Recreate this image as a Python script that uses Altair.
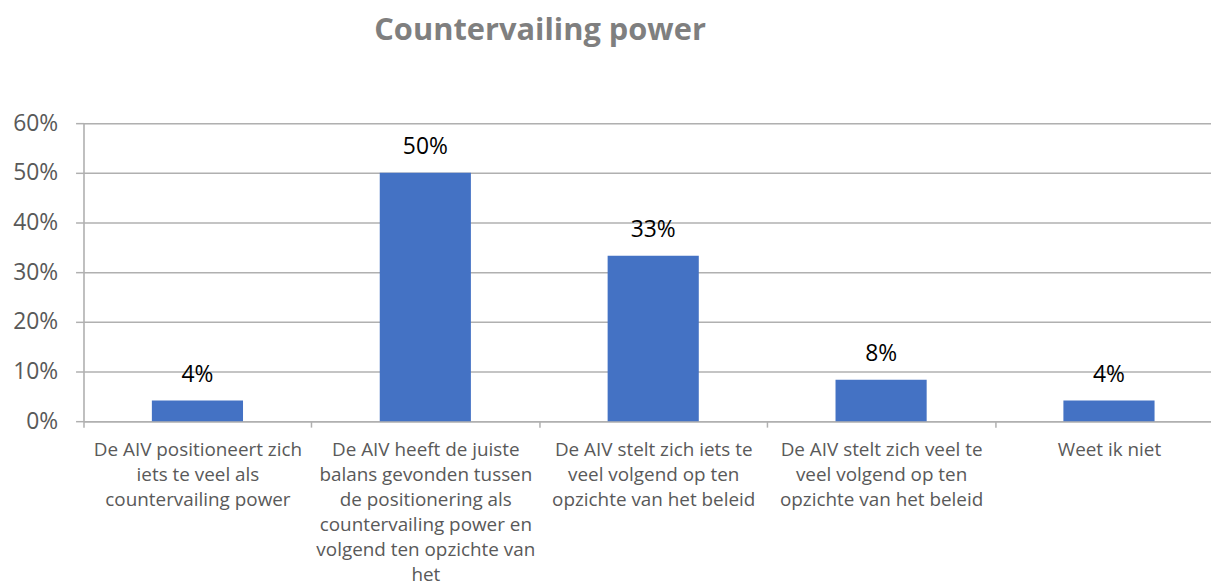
import altair as alt
import pandas as pd

categories = [
    "De AIV positioneert zich|iets te veel als|countervailing power",
    "De AIV heeft de juiste|balans gevonden tussen|de positionering als|countervailing power en|volgend ten opzichte van|het",
    "De AIV stelt zich iets te|veel volgend op ten|opzichte van het beleid",
    "De AIV stelt zich veel te|veel volgend op ten|opzichte van het beleid",
    "Weet ik niet",
]
values = [0.0417, 0.50, 0.3333, 0.0833, 0.0417]
labels = ["4%", "50%", "33%", "8%", "4%"]
y_ticks = [0, 0.1, 0.2, 0.3, 0.4, 0.5, 0.6]

df = pd.DataFrame({"cat": categories, "val": values, "lab": labels})

FONT = "Open Sans"
GRAY = "#595959"
GRID = "#b0b0b0"

x_enc = alt.X(
    "cat:N",
    sort=categories,
    title=None,
    scale=alt.Scale(range=[0, 1147], paddingInner=0, paddingOuter=0),
    axis=alt.Axis(
        labelAngle=0,
        labelExpr="split(datum.label, '|')",
        labelFont=FONT,
        labelFontSize=19,
        labelLineHeight=25,
        labelColor=GRAY,
        labelPadding=14,
        labelBaseline="top",
        tickBand="extent",
        tickSize=6,
        tickColor=GRID,
        domainColor=GRID,
        domainWidth=1.5,
        tickWidth=1.5,
        grid=False,
        labelLimit=400,
    ),
)

y_enc = alt.Y(
    "val:Q",
    title=None,
    scale=alt.Scale(domain=[0, 0.6], nice=False),
    axis=alt.Axis(
        values=y_ticks,
        format=".0%",
        labelFont=FONT,
        labelFontSize=23,
        labelColor=GRAY,
        labelPadding=18,
        tickSize=8,
        tickColor=GRID,
        tickWidth=1.5,
        domainColor=GRID,
        domainWidth=1.5,
        gridColor=GRID,
        gridWidth=1.5,
    ),
)

base = alt.Chart(df)

bars = base.mark_bar(color="#4472C4", width=alt.RelativeBandSize(0.4)).encode(
    x=x_enc, y=y_enc
)

text = base.mark_text(
    font=FONT, fontSize=23, color="#000000", baseline="alphabetic", dy=-19
).encode(x=alt.X("cat:N", sort=categories), y="val:Q", text="lab:N")

chart = (
    alt.layer(bars, text)
    .properties(
        width=1135,
        height=300,
        autosize=alt.AutoSizeParams(type="none"),
        padding={"left": 76, "top": 114, "right": 0, "bottom": 165},
        title=alt.TitleParams(
            "Countervailing power",
            font=FONT,
            fontSize=31,
            fontWeight="bold",
            color="#7f7f7f",
            anchor="start",
            dx=364,
            offset=66,
        ),
    )
    .configure_view(stroke=None)
    .configure(background="white")
)

chart.save("out.html", embed_options={"renderer": "svg", "actions": False})
